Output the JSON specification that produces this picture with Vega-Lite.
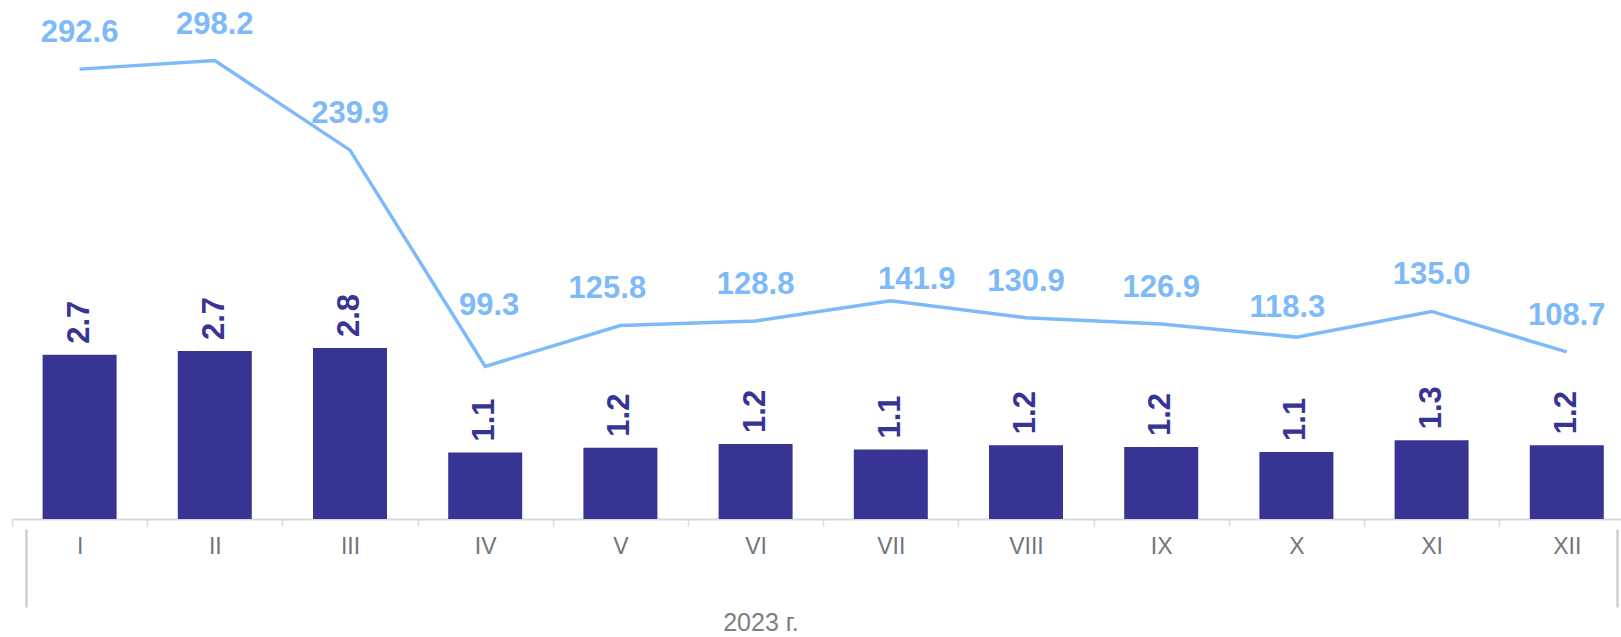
{
  "$schema": "https://vega.github.io/schema/vega-lite/v6.json",
  "width": 1609,
  "height": 492,
  "autosize": {"type": "none"},
  "padding": {"left": 12, "top": 27, "right": 0, "bottom": 118},
  "background": "white",
  "config": {"view": {"stroke": null}, "font": "Liberation Sans"},
  "data": {
    "values": [
      {"month": "I", "year": "2023 г.", "share": 2.67, "index": 292.6},
      {"month": "II", "year": "2023 г.", "share": 2.73, "index": 298.2},
      {"month": "III", "year": "2023 г.", "share": 2.78, "index": 239.9},
      {"month": "IV", "year": "2023 г.", "share": 1.08, "index": 99.3},
      {"month": "V", "year": "2023 г.", "share": 1.16, "index": 125.8},
      {"month": "VI", "year": "2023 г.", "share": 1.22, "index": 128.8},
      {"month": "VII", "year": "2023 г.", "share": 1.13, "index": 141.9},
      {"month": "VIII", "year": "2023 г.", "share": 1.2, "index": 130.9},
      {"month": "IX", "year": "2023 г.", "share": 1.17, "index": 126.9},
      {"month": "X", "year": "2023 г.", "share": 1.09, "index": 118.3},
      {"month": "XI", "year": "2023 г.", "share": 1.28, "index": 135.0},
      {"month": "XII", "year": "2023 г.", "share": 1.2, "index": 108.7}
    ]
  },
  "resolve": {"scale": {"x": "independent"}, "axis": {"x": "independent"}},
  "layer": [
    {
      "resolve": {"scale": {"y": "independent"}},
      "encoding": {
        "x": {
          "field": "month",
          "type": "ordinal",
          "sort": null,
          "scale": {"range": [0, 1622.4], "paddingInner": 0, "paddingOuter": 0},
          "axis": {
            "orient": "bottom",
            "title": null,
            "labelAngle": 0,
            "labelFont": "Liberation Sans",
            "labelFontSize": 23,
            "labelColor": "#70757d",
            "labelPadding": 9,
            "labelBaseline": "top",
            "tickBand": "extent",
            "tickSize": 7,
            "tickColor": "#d9d9d9",
            "tickWidth": 1.5,
            "domainColor": "#d9d9d9",
            "domainWidth": 2,
            "grid": false
          }
        }
      },
      "layer": [
        {
          "encoding": {
            "y": {"field": "share", "type": "quantitative", "scale": {"domain": [0, 8]}, "axis": null}
          },
          "layer": [
            {"mark": {"type": "bar", "width": 74, "color": "#373494"}, "encoding": {}},
            {
              "mark": {"type": "text", "angle": 270, "align": "left", "baseline": "middle", "dx": 11, "font": "Liberation Sans", "fontWeight": "bold", "fontSize": 31, "color": "#373494"},
              "encoding": {"text": {"field": "share", "type": "quantitative", "format": ".1f"}}
            }
          ]
        },
        {
          "encoding": {
            "y": {"field": "index", "type": "quantitative", "scale": {"domain": [0, 320]}, "axis": null}
          },
          "layer": [
            {"mark": {"type": "line", "color": "#7EBAF8", "strokeWidth": 3.5}, "encoding": {}},
            {
              "transform": [{"filter": {"not": {"field": "month", "oneOf": ["IV", "V", "VII", "X"]}}}],
              "mark": {"type": "text", "baseline": "middle", "dy": -36, "font": "Liberation Sans", "fontWeight": "bold", "fontSize": 31, "color": "#7EBAF8"},
              "encoding": {"text": {"field": "index", "type": "quantitative", "format": ".1f"}}
            },
            {
              "transform": [{"filter": {"field": "month", "equal": "IV"}}],
              "mark": {"type": "text", "baseline": "middle", "dy": -60, "dx": 4, "font": "Liberation Sans", "fontWeight": "bold", "fontSize": 31, "color": "#7EBAF8"},
              "encoding": {"text": {"field": "index", "type": "quantitative", "format": ".1f"}}
            },
            {
              "transform": [{"filter": {"field": "month", "equal": "V"}}],
              "mark": {"type": "text", "baseline": "middle", "dy": -37, "dx": -13, "font": "Liberation Sans", "fontWeight": "bold", "fontSize": 31, "color": "#7EBAF8"},
              "encoding": {"text": {"field": "index", "type": "quantitative", "format": ".1f"}}
            },
            {
              "transform": [{"filter": {"field": "month", "equal": "VII"}}],
              "mark": {"type": "text", "baseline": "middle", "dy": -21, "dx": 26, "font": "Liberation Sans", "fontWeight": "bold", "fontSize": 31, "color": "#7EBAF8"},
              "encoding": {"text": {"field": "index", "type": "quantitative", "format": ".1f"}}
            },
            {
              "transform": [{"filter": {"field": "month", "equal": "X"}}],
              "mark": {"type": "text", "baseline": "middle", "dy": -29, "dx": -9, "font": "Liberation Sans", "fontWeight": "bold", "fontSize": 31, "color": "#7EBAF8"},
              "encoding": {"text": {"field": "index", "type": "quantitative", "format": ".1f"}}
            }
          ]
        }
      ]
    },
    {
      "mark": {"type": "point", "opacity": 0},
      "encoding": {
        "x": {
          "field": "year",
          "type": "nominal",
          "scale": {"range": [14, 1605], "paddingInner": 0, "paddingOuter": 0},
          "axis": {
            "orient": "bottom",
            "offset": 10,
            "title": null,
            "domain": false,
            "grid": false,
            "labelAngle": 0,
            "tickBand": "extent",
            "tickSize": 78,
            "tickColor": "#c4c4c4",
            "tickWidth": 2,
            "labelFont": "Liberation Sans",
            "labelFontSize": 25,
            "labelColor": "#7f7f7f",
            "labelBaseline": "top",
            "labelPadding": 3,
            "labelOffset": -61
          }
        }
      }
    }
  ]
}
